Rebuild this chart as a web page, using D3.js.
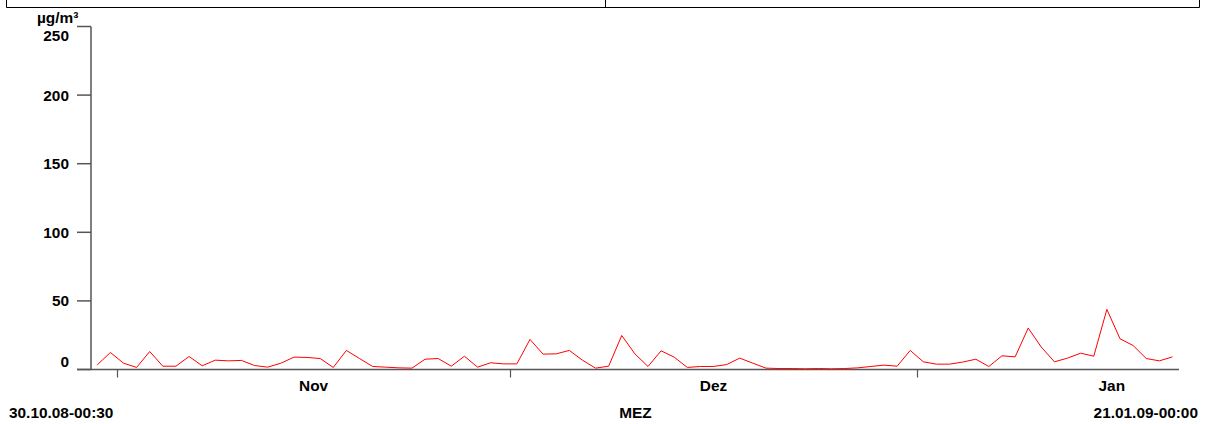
<!DOCTYPE html>
<html>
<head>
<meta charset="utf-8">
<script src="https://cdn.jsdelivr.net/npm/d3@7"></script>
<style>
  html, body { margin: 0; padding: 0; background: #fff; }
  svg text { font-family: "Liberation Sans", Arial, sans-serif; font-weight: bold; fill: #000; }
</style>
</head>
<body>
<svg id="chart" width="1210" height="424"></svg>
<script>
// ---- data ----
const startLabel = "30.10.08-00:30";
const endLabel = "21.01.09-00:00";
const unitLabel = "µg/m³";
const zoneLabel = "MEZ";
const domainStart = "2008-10-30T00:30";
const domainEnd = "2009-01-21T00:00";
const dates = [
  "2008-10-30","2008-10-31",
  "2008-11-01","2008-11-02","2008-11-03","2008-11-04","2008-11-05","2008-11-06","2008-11-07","2008-11-08","2008-11-09","2008-11-10",
  "2008-11-11","2008-11-12","2008-11-13","2008-11-14","2008-11-15","2008-11-16","2008-11-17","2008-11-18","2008-11-19","2008-11-20",
  "2008-11-21","2008-11-22","2008-11-23","2008-11-24","2008-11-25","2008-11-26","2008-11-27","2008-11-28","2008-11-29","2008-11-30",
  "2008-12-01","2008-12-02","2008-12-03","2008-12-04","2008-12-05","2008-12-06","2008-12-07","2008-12-08","2008-12-09","2008-12-10",
  "2008-12-11","2008-12-12","2008-12-13","2008-12-14","2008-12-15","2008-12-16","2008-12-17","2008-12-18","2008-12-19","2008-12-20",
  "2008-12-21","2008-12-22","2008-12-23","2008-12-24","2008-12-25","2008-12-26","2008-12-27","2008-12-28","2008-12-29","2008-12-30","2008-12-31",
  "2009-01-01","2009-01-02","2009-01-03","2009-01-04","2009-01-05","2009-01-06","2009-01-07","2009-01-08","2009-01-09","2009-01-10",
  "2009-01-11","2009-01-12","2009-01-13","2009-01-14","2009-01-15","2009-01-16","2009-01-17","2009-01-18","2009-01-19","2009-01-20"
];
const values = [
  3.4, 12.4,
  4.6, 1.5, 13.1, 2.4, 2.4, 9.5, 2.7, 6.8, 6.3, 6.6,
  2.9, 1.7, 4.6, 9.0, 8.8, 8.0, 1.5, 13.9, 8.0, 2.2,
  1.7, 1.2, 1.0, 7.5, 8.0, 2.4, 9.7, 1.7, 4.9, 4.1,
  4.1, 21.9, 11.2, 11.4, 13.9, 6.8, 1.0, 2.4, 24.8, 11.4,
  2.2, 13.6, 9.0, 1.5, 2.2, 2.2, 3.6, 8.3, 4.6, 1.0,
  0.7, 0.7, 0.5, 0.7, 0.5, 0.7, 1.2, 2.2, 3.2, 2.4, 13.9,
  5.6, 3.9, 3.9, 5.4, 7.5, 2.2, 10.0, 9.2, 30.2, 16.3,
  5.6, 8.3, 11.9, 9.7, 43.8, 22.4, 17.5, 8.0, 6.3, 9.2
];
const yTicks = [0, 50, 100, 150, 200, 250];
const monthTicks = ["2008-11-01T00:00", "2008-12-01T00:00", "2009-01-01T00:00"];
const monthLabels = ["Nov", "Dez", "Jan"];
const monthLabelDates = ["2008-11-16T00:00", "2008-12-16T12:00", "2009-01-15T21:00"];

// ---- chart ----
const parse = d3.timeParse("%Y-%m-%dT%H:%M");
const svg = d3.select("#chart");
const axisColor = "#555";
const fontSize = 15.4;

svg.append("rect").attr("width", 1210).attr("height", 424).attr("fill", "#fff");

// top header box
const head = svg.append("g").attr("fill", "none").attr("stroke", "#000").attr("stroke-width", 1);
head.append("path").attr("d", "M6.5,-1V7.5H1199.5V-1");
head.append("line").attr("x1", 605.5).attr("x2", 605.5).attr("y1", -1).attr("y2", 7.5);

const x = d3.scaleTime()
  .domain([parse(domainStart), parse(domainEnd)])
  .range([91, 1179]);
const y = d3.scaleLinear().domain([0, 250]).range([369.5, 26.5]);

const x0 = 91;

// y axis
svg.append("line").attr("x1", x0).attr("x2", x0).attr("y1", y(250)).attr("y2", y(0))
  .attr("stroke", axisColor).attr("stroke-width", 1.5);
svg.selectAll(".ytick").data(yTicks).join("line")
  .attr("x1", 77).attr("x2", x0).attr("y1", d => y(d)).attr("y2", d => y(d))
  .attr("stroke", axisColor).attr("stroke-width", 1.5);
svg.selectAll(".ylab").data(yTicks).join("text")
  .attr("x", 69)
  .attr("y", d => d === 250 ? y(d) + 14 : (d === 0 ? y(d) - 2.5 : y(d) + 5.4))
  .attr("text-anchor", "end")
  .attr("font-size", fontSize)
  .text(d => d);
svg.append("text").attr("x", 37).attr("y", 22.5).attr("font-size", fontSize).text(unitLabel);

// x axis
svg.append("line").attr("x1", 77).attr("x2", x(parse(domainEnd))).attr("y1", y(0)).attr("y2", y(0))
  .attr("stroke", axisColor).attr("stroke-width", 1.5);
svg.selectAll(".xtick").data(monthTicks).join("line")
  .attr("x1", d => Math.round(x(parse(d))) + 0.5).attr("x2", d => Math.round(x(parse(d))) + 0.5)
  .attr("y1", y(0)).attr("y2", y(0) + 8)
  .attr("stroke", axisColor).attr("stroke-width", 1.2);
svg.selectAll(".xlab").data(monthLabels).join("text")
  .attr("x", (d, i) => x(parse(monthLabelDates[i])))
  .attr("y", 391)
  .attr("text-anchor", "middle")
  .attr("font-size", fontSize)
  .text(d => d);

svg.append("text").attr("x", 9).attr("y", 418).attr("font-size", fontSize).text(startLabel);
svg.append("text").attr("x", 635.5).attr("y", 418).attr("text-anchor", "middle").attr("font-size", fontSize).text(zoneLabel);
svg.append("text").attr("x", 1198).attr("y", 418).attr("text-anchor", "end").attr("font-size", fontSize).text(endLabel);

// data line (daily means plotted at noon)
const pts = dates.map((d, i) => ({ t: parse(d + "T12:00"), v: values[i] }));
const line = d3.line().x(d => x(d.t)).y(d => y(d.v));
svg.append("path").datum(pts)
  .attr("d", line)
  .attr("fill", "none")
  .attr("stroke", "#ff0000")
  .attr("stroke-width", 1);
</script>
</body>
</html>
